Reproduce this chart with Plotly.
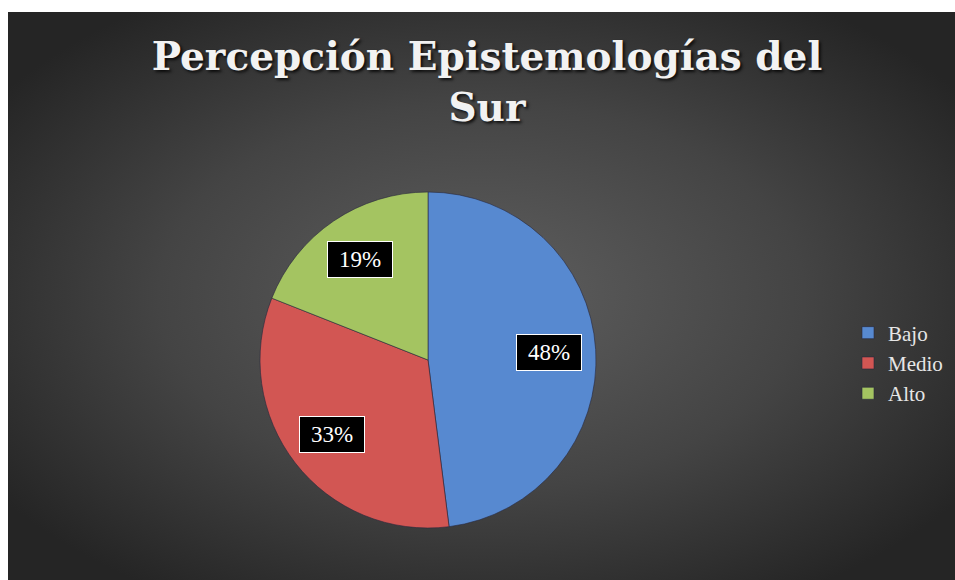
import base64
import math
import plotly.graph_objects as go

# ---- data ----
categories = ["Bajo", "Medio", "Alto"]
values = [48, 33, 19]
colors = ["#5789D0", "#D25653", "#A4C461"]
title_text = "Percepción Epistemologías del<br>Sur"

W, H = 955, 580
# pie placement (pixels)
pcx, pcy, pr = 428, 360, 168

# ---- background gradient as an SVG image ----
svg = (
    '<svg xmlns="http://www.w3.org/2000/svg" width="947" height="568">'
    '<defs><radialGradient id="g" cx="50%" cy="50%" r="62%">'
    '<stop offset="0" stop-color="#5f5f5f"/>'
    '<stop offset="0.55" stop-color="#444444"/>'
    '<stop offset="1" stop-color="#252525"/>'
    '</radialGradient></defs>'
    '<rect width="947" height="568" fill="url(#g)"/></svg>'
)
bg_uri = "data:image/svg+xml;base64," + base64.b64encode(svg.encode()).decode()

dom_x = [(pcx - pr) / W, (pcx + pr) / W]
dom_y = [(H - pcy - pr) / H, (H - pcy + pr) / H]

fig = go.Figure(
    go.Pie(
        labels=categories,
        values=values,
        sort=False,
        direction="clockwise",
        rotation=0,
        marker=dict(colors=colors, line=dict(color="rgba(40,40,60,0.6)", width=1)),
        textinfo="none",
        hoverinfo="label+percent",
        domain=dict(x=dom_x, y=dom_y),
    )
)

# percentage boxes placed from the data's cumulative angles
total = sum(values)
cum = 0
annotations = []
for v in values:
    mid = (cum + v / 2) / total * 2 * math.pi
    cum += v
    d = 0.72 * pr
    xp = (pcx + d * math.sin(mid)) / W
    yp = (H - (pcy - d * math.cos(mid))) / H
    annotations.append(
        dict(
            x=xp, y=yp, xref="paper", yref="paper",
            xanchor="center", yanchor="middle",
            text=f"{round(v / total * 100)}%",
            showarrow=False,
            font=dict(family="Liberation Serif", size=23, color="white"),
            bgcolor="black", bordercolor="white", borderwidth=1, borderpad=5,
            width=54, height=25,
        )
    )

fig.update_layout(
    width=W, height=H,
    margin=dict(l=0, r=0, t=0, b=0),
    paper_bgcolor="white",
    plot_bgcolor="rgba(0,0,0,0)",
    images=[dict(
        source=bg_uri, xref="paper", yref="paper",
        x=8 / W, y=1 - 12 / H, sizex=1 - 8 / W, sizey=1 - 12 / H,
        xanchor="left", yanchor="top", sizing="stretch", layer="below",
    )],
    title=dict(
        text=title_text,
        x=487 / W, xanchor="center",
        y=1 - 70 / H, yanchor="top",
        font=dict(family="DejaVu Serif, serif", size=39,
                  color="#f2f2f2", weight="bold",
                  shadow="2px 2px 3px rgba(0,0,0,0.8)"),
    ),
    showlegend=True,
    legend=dict(
        x=848 / W, xanchor="left",
        y=1 - 363 / H, yanchor="middle",
        font=dict(family="Liberation Serif, serif", size=21, color="#e6e6e6"),
        bgcolor="rgba(0,0,0,0)",
        itemwidth=30,
    ),
    annotations=annotations,
)

fig.write_html(
    "out.html",
    config={"displayModeBar": False},
    post_script="document.body.style.margin='0';document.body.style.overflow='hidden';",
)
